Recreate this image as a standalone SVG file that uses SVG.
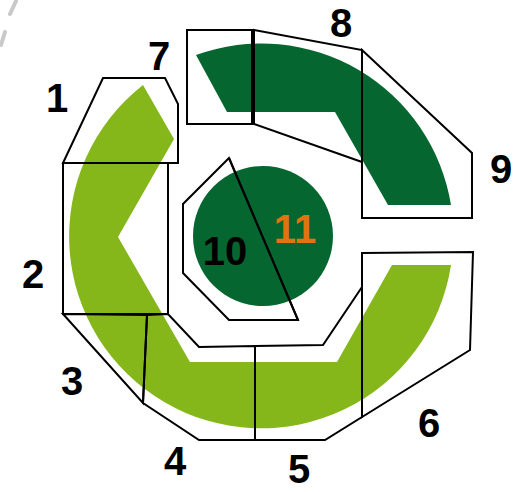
<svg xmlns="http://www.w3.org/2000/svg" width="520" height="492" viewBox="0 0 520 492">
<style>
.shape{fill:none;stroke:#000;stroke-width:2;stroke-linejoin:miter}
.lbl{font-family:"Liberation Sans",Arial,sans-serif;font-weight:bold;font-size:40px;fill:#000;text-anchor:middle}
.light{fill:#85b71a}
.dark{fill:#05672f}
</style>
<rect width="520" height="492" fill="#fff"/>
<g id="artifact" stroke="#c9c9c9" stroke-width="4" stroke-linecap="round">
<line x1="16" y1="1" x2="10" y2="14"/>
<line x1="5" y1="32" x2="1" y2="45"/>
</g>
<g id="bands">
<path class="light" d="M143,85 L174,139 L118,237 L190,362 L337,362 L392,265 L451,265 A192,192 0 1 1 143,85 Z"/>
<path class="dark" d="M196,55 A192,192 0 0 1 451,205 L388,205 L335,112 L227,112 Z"/>
<circle id="core" class="dark" cx="263" cy="236" r="70"/>
</g>
<g id="connectors">
<line class="shape" x1="229" y1="158" x2="298" y2="320"/>
</g>
<g id="n1"><polygon class="shape" points="63,163 103,78 165,78 178,104 178,163"/><text class="lbl" x="57" y="112">1</text></g>
<g id="n2"><polygon class="shape" points="63,163 168,163 168,314 63,314"/><text class="lbl" x="33" y="288">2</text></g>
<g id="n3"><polygon class="shape" points="63,314 147,315 143,403"/><text class="lbl" x="72" y="395">3</text></g>
<g id="n4"><polygon class="shape" points="147,315 168,314 199,347 255,346 255,440 199,440 143,403"/><text class="lbl" x="175" y="475">4</text></g>
<g id="n5"><polygon class="shape" points="255,346 323,345 362,287 362,417 325,440 255,440"/><text class="lbl" x="299" y="483">5</text></g>
<g id="n6"><polygon class="shape" points="362,253 473,252 470,350 362,417"/><text class="lbl" x="429" y="437">6</text></g>
<g id="n7"><polygon class="shape" points="187,30 252,30 252,124 187,124"/><text class="lbl" x="159" y="70">7</text></g>
<g id="n8"><polygon class="shape" points="254,30 362,50 362,162 254,124"/><text class="lbl" x="341" y="37">8</text></g>
<g id="n9"><polygon class="shape" points="362,50 472,153 472,218 362,218"/><text class="lbl" x="501" y="183">9</text></g>
<g id="n10"><polygon class="shape" points="229,158 183,204 183,273 229,320 298,320"/><text class="lbl" x="225" y="265">10</text></g>
<g id="n11"><text class="lbl" x="295" y="243" style="fill:#e0750f">11</text></g>
</svg>
